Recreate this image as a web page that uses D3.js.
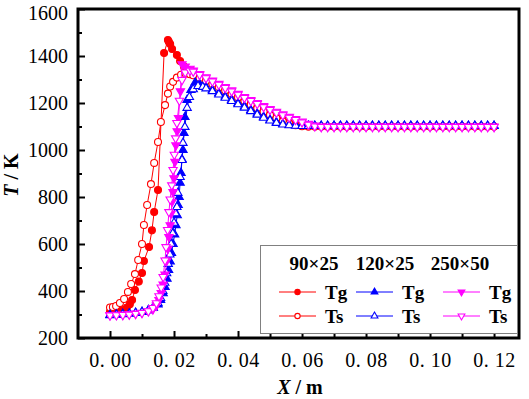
<!DOCTYPE html>
<html>
<head>
<meta charset="UTF-8">
<script src="https://cdn.jsdelivr.net/npm/d3@7/dist/d3.min.js"></script>
<style>
  body { margin: 0; background: #fff; }
  text { font-family: "Liberation Serif", "Times New Roman", serif; }
</style>
</head>
<body>
<svg id="chart" width="529" height="399"></svg>
<script>
// ---- data: [x (m), T (K)] ----
const redTg = [[0,312],[0.0013,313],[0.0027,315],[0.004,320],[0.0053,330],[0.0062,344],[0.0069,362],[0.0078,404],[0.009,440],[0.01,477],[0.0106,528],[0.0122,587],[0.0131,658],[0.0138,736],[0.015,830],[0.0169,1413],[0.0181,1468],[0.0184,1460],[0.0188,1451],[0.0194,1430],[0.0209,1404],[0.0219,1379],[0.0231,1355],[0.0245,1340],[0.026,1330],[0.028,1315],[0.03,1301],[0.032,1287],[0.034,1273],[0.036,1258],[0.038,1243],[0.04,1228],[0.042,1213],[0.044,1198],[0.046,1183],[0.048,1168],[0.05,1154],[0.052,1140],[0.054,1127],[0.056,1116],[0.058,1108],[0.06,1102],[0.062,1100],
  [0.064,1100],[0.066,1100],[0.068,1100],[0.07,1100],[0.072,1100],[0.074,1100],[0.076,1100],[0.078,1100],[0.08,1100],[0.082,1100],[0.084,1100],[0.086,1100],[0.088,1100],[0.09,1100],[0.092,1100],[0.094,1100],[0.096,1100],[0.098,1100],[0.1,1100],[0.102,1100],[0.104,1100],[0.106,1100],[0.108,1100],[0.11,1100],[0.112,1100],[0.114,1100],[0.116,1100],[0.118,1100],[0.12,1100]];
const redTs = [[0,330],[0.0009,332],[0.0019,336],[0.0031,349],[0.0044,366],[0.0056,396],[0.0066,430],[0.0078,472],[0.0088,532],[0.01,600],[0.0106,681],[0.0116,766],[0.0128,855],[0.0138,945],[0.015,1034],[0.0159,1119],[0.0172,1191],[0.0181,1240],[0.0188,1270],[0.0197,1290],[0.0209,1308],[0.0222,1320],[0.0236,1325],[0.025,1322],[0.026,1318],[0.028,1306],[0.03,1294],[0.032,1281],[0.034,1267],[0.036,1253],[0.038,1238],[0.04,1223],[0.042,1208],[0.044,1193],[0.046,1178],[0.048,1163],[0.05,1149],[0.052,1135],[0.054,1122],[0.056,1112],[0.058,1105],[0.06,1101],[0.062,1100],
  [0.064,1100],[0.066,1100],[0.068,1100],[0.07,1100],[0.072,1100],[0.074,1100],[0.076,1100],[0.078,1100],[0.08,1100],[0.082,1100],[0.084,1100],[0.086,1100],[0.088,1100],[0.09,1100],[0.092,1100],[0.094,1100],[0.096,1100],[0.098,1100],[0.1,1100],[0.102,1100],[0.104,1100],[0.106,1100],[0.108,1100],[0.11,1100],[0.112,1100],[0.114,1100],[0.116,1100],[0.118,1100],[0.12,1100]];
const blueTg = [[0,298],[0.002,300],[0.004,302],[0.006,304],[0.008,307],[0.01,311],[0.012,318],[0.0135,328],[0.015,342],[0.0158,362],[0.0166,390],[0.0172,417],[0.0178,452],[0.0183,489],[0.0188,525],[0.0192,562],[0.0197,600],[0.0202,640],[0.0206,680],[0.021,722],[0.0213,766],[0.0216,800],[0.0219,860],[0.0222,902],[0.0225,960],[0.0228,1000],[0.0231,1072],[0.0234,1140],[0.0241,1213],[0.0253,1255],[0.0266,1287],[0.028,1280],[0.03,1268],[0.032,1255],[0.034,1241],[0.036,1227],[0.038,1213],[0.04,1199],[0.042,1185],[0.044,1170],[0.046,1155],[0.048,1141],[0.05,1128],[0.052,1118],[0.054,1111],[0.056,1107],[0.058,1105],[0.06,1104],[0.062,1103],
  [0.064,1103],[0.066,1103],[0.068,1103],[0.07,1103],[0.072,1103],[0.074,1103],[0.076,1103],[0.078,1103],[0.08,1103],[0.082,1103],[0.084,1103],[0.086,1103],[0.088,1103],[0.09,1103],[0.092,1103],[0.094,1103],[0.096,1103],[0.098,1103],[0.1,1103],[0.102,1103],[0.104,1103],[0.106,1103],[0.108,1103],[0.11,1103],[0.112,1103],[0.114,1103],[0.116,1103],[0.118,1103],[0.12,1103]];
const blueTs = [[0,297],[0.002,299],[0.004,301],[0.006,303],[0.008,306],[0.01,310],[0.012,318],[0.0135,330],[0.015,348],[0.0158,370],[0.0165,400],[0.0171,435],[0.0177,475],[0.0182,515],[0.0187,555],[0.0191,600],[0.0196,645],[0.02,690],[0.0205,730],[0.0209,757],[0.0212,817],[0.0219,885],[0.0225,957],[0.0228,1030],[0.0234,1098],[0.0241,1179],[0.0248,1225],[0.026,1258],[0.0275,1272],[0.029,1268],[0.03,1262],[0.032,1250],[0.034,1236],[0.036,1222],[0.038,1208],[0.04,1194],[0.042,1180],[0.044,1165],[0.046,1150],[0.048,1137],[0.05,1125],[0.052,1115],[0.054,1108],[0.056,1105],[0.058,1103],[0.06,1102],[0.062,1102],
  [0.064,1102],[0.066,1102],[0.068,1102],[0.07,1102],[0.072,1102],[0.074,1102],[0.076,1102],[0.078,1102],[0.08,1102],[0.082,1102],[0.084,1102],[0.086,1102],[0.088,1102],[0.09,1102],[0.092,1102],[0.094,1102],[0.096,1102],[0.098,1102],[0.1,1102],[0.102,1102],[0.104,1102],[0.106,1102],[0.108,1102],[0.11,1102],[0.112,1102],[0.114,1102],[0.116,1102],[0.118,1102],[0.12,1102]];
const magTg = [[0,298],[0.002,299],[0.004,300],[0.006,302],[0.008,304],[0.01,308],[0.012,314],[0.0134,322],[0.0145,338],[0.0153,362],[0.016,392],[0.0166,428],[0.0172,470],[0.0178,530],[0.0181,580],[0.0184,630],[0.0188,680],[0.0191,730],[0.0194,780],[0.0197,821],[0.02,880],[0.0203,950],[0.0206,1020],[0.021,1080],[0.0214,1136],[0.022,1250],[0.0225,1365],[0.0235,1356],[0.025,1346],[0.026,1338],[0.028,1324],[0.03,1310],[0.032,1296],[0.034,1282],[0.036,1268],[0.038,1254],[0.04,1240],[0.042,1226],[0.044,1213],[0.046,1200],[0.048,1187],[0.05,1175],[0.052,1163],[0.054,1152],[0.056,1142],[0.058,1132],[0.06,1122],[0.062,1112],[0.064,1104],[0.066,1100],
  [0.068,1100],[0.07,1100],[0.072,1100],[0.074,1100],[0.076,1100],[0.078,1100],[0.08,1100],[0.082,1100],[0.084,1100],[0.086,1100],[0.088,1100],[0.09,1100],[0.092,1100],[0.094,1100],[0.096,1100],[0.098,1100],[0.1,1100],[0.102,1100],[0.104,1100],[0.106,1100],[0.108,1100],[0.11,1100],[0.112,1100],[0.114,1100],[0.116,1100],[0.118,1100],[0.12,1100]];
const magTs = [[0,296],[0.002,297],[0.004,298],[0.006,300],[0.008,303],[0.01,307],[0.012,314],[0.0134,328],[0.0145,348],[0.0153,378],[0.016,415],[0.0166,460],[0.0172,530],[0.0175,587],[0.018,660],[0.0184,736],[0.0188,790],[0.0193,850],[0.0197,915],[0.0201,980],[0.0205,1050],[0.0209,1115],[0.0217,1210],[0.0225,1298],[0.0235,1330],[0.025,1338],[0.026,1334],[0.028,1320],[0.03,1306],[0.032,1292],[0.034,1278],[0.036,1264],[0.038,1250],[0.04,1236],[0.042,1222],[0.044,1209],[0.046,1196],[0.048,1183],[0.05,1171],[0.052,1159],[0.054,1148],[0.056,1138],[0.058,1128],[0.06,1118],[0.062,1108],[0.064,1101],[0.066,1098],
  [0.068,1098],[0.07,1098],[0.072,1098],[0.074,1098],[0.076,1098],[0.078,1098],[0.08,1098],[0.082,1098],[0.084,1098],[0.086,1098],[0.088,1098],[0.09,1098],[0.092,1098],[0.094,1098],[0.096,1098],[0.098,1098],[0.1,1098],[0.102,1098],[0.104,1098],[0.106,1098],[0.108,1098],[0.11,1098],[0.112,1098],[0.114,1098],[0.116,1098],[0.118,1098],[0.12,1098]];

const meshNames = ["90×25", "120×25", "250×50"];
const xTicks = [0, 0.02, 0.04, 0.06, 0.08, 0.10, 0.12];
const xMinor = [0.01, 0.03, 0.05, 0.07, 0.09, 0.11];
const yTicks = [200, 400, 600, 800, 1000, 1200, 1400, 1600];
const yMinor = [300, 500, 700, 900, 1100, 1300, 1500];

// series styling: colour, marker shape, filled?
const series = [
  { data: redTg,  color: "#ff0000", shape: "circle", filled: true,  col: 0, row: 0, label: "Tg" },
  { data: redTs,  color: "#ff0000", shape: "circle", filled: false, col: 0, row: 1, label: "Ts" },
  { data: blueTg, color: "#0000ff", shape: "up",     filled: true,  col: 1, row: 0, label: "Tg" },
  { data: blueTs, color: "#0000ff", shape: "up",     filled: false, col: 1, row: 1, label: "Ts" },
  { data: magTg,  color: "#ff00ff", shape: "down",   filled: true,  col: 2, row: 0, label: "Tg" },
  { data: magTs,  color: "#ff00ff", shape: "down",   filled: false, col: 2, row: 1, label: "Ts" }
];

// ---- layout ----
const L = 78, R = 519, T = 9, B = 338;
const FONT = '"Liberation Serif", "Times New Roman", serif';
const svg = d3.select("#chart");
const x = d3.scaleLinear([-0.01, 0.1278], [L, R]);
const y = d3.scaleLinear([200, 1600], [B, T]);

// axes (ticks point inward)
const fmtX = d => d3.format(".2f")(d).replace(".", ". ");
const gx = svg.append("g").attr("transform", `translate(0,${B})`)
  .call(d3.axisBottom(x).tickValues(xTicks).tickSize(-7).tickFormat(fmtX));
gx.selectAll("text").attr("y", 29).attr("dy", 0)
  .style("font-family", FONT).style("font-size", "20px").style("letter-spacing", "0.5px").attr("fill", "#000");
svg.append("g").attr("transform", `translate(0,${B})`)
  .call(d3.axisBottom(x).tickValues(xMinor).tickSize(-4).tickFormat(""));

const gy = svg.append("g").attr("transform", `translate(${L},0)`)
  .call(d3.axisLeft(y).tickValues(yTicks).tickSize(-7).tickFormat(d3.format("d")));
gy.selectAll("text").style("font-family", FONT).style("font-size", "20px")
  .attr("fill", "#000").attr("x", -10)
  .attr("dy", d => d === 1600 ? "0.5em" : "0.34em");  // top label sits a little lower, as in the source
svg.append("g").attr("transform", `translate(${L},0)`)
  .call(d3.axisLeft(y).tickValues(yMinor).tickSize(-4).tickFormat(""));

svg.selectAll(".domain").remove();
svg.selectAll(".tick line").attr("stroke", "#000").attr("stroke-width", 2);

// frame
svg.append("rect").attr("x", L).attr("y", T).attr("width", R - L).attr("height", B - T)
  .attr("fill", "none").attr("stroke", "#000").attr("stroke-width", 3);

// axis titles
svg.append("text").attr("x", 300).attr("y", 394).attr("text-anchor", "middle")
  .style("font-size", "20px").style("font-weight", "bold")
  .html('<tspan font-style="italic">X</tspan> / m');
svg.append("text").attr("transform", "translate(18,175) rotate(-90)").attr("text-anchor", "middle")
  .style("font-size", "20px").style("font-weight", "bold")
  .html('<tspan font-style="italic">T</tspan> / K');

// markers
function markerPath(shape, size) {
  if (shape === "circle") return d3.symbol().type(d3.symbolCircle).size(size)();
  return d3.symbol().type(d3.symbolTriangle).size(size)();
}
function drawMarker(g, s, px, py, size) {
  g.append("path")
    .attr("d", markerPath(s.shape, size))
    .attr("transform", `translate(${px},${py})` + (s.shape === "down" ? " rotate(180)" : ""))
    .attr("fill", s.filled ? s.color : "#fff")
    .attr("stroke", s.color).attr("stroke-width", 1.1);
}

const line = d3.line().x(d => x(d[0])).y(d => y(d[1]));
series.forEach(s => {
  const g = svg.append("g");
  g.append("path").datum(s.data).attr("d", line)
    .attr("fill", "none").attr("stroke", s.color).attr("stroke-width", 1);
  s.data.forEach(d => drawMarker(g, s, x(d[0]), y(d[1]), s.shape === "circle" ? 38 : 30));
});

// legend
const lg = svg.append("g");
lg.append("rect").attr("x", 260.5).attr("y", 245.5).attr("width", 257).attr("height", 88)
  .attr("fill", "#fff").attr("stroke", "#808080").attr("stroke-width", 1);
const colX = [279, 356, 443];
const headX = [314, 385, 460];
meshNames.forEach((n, i) => {
  lg.append("text").attr("x", headX[i]).attr("y", 270).attr("text-anchor", "middle")
    .style("font-size", "19px").style("font-weight", "bold").text(n);
});
const rowY = [292, 316];
series.forEach(s => {
  const x0 = colX[s.col], yy = rowY[s.row];
  lg.append("line").attr("x1", x0).attr("x2", x0 + 37).attr("y1", yy).attr("y2", yy)
    .attr("stroke", s.color).attr("stroke-width", 1);
  drawMarker(lg, s, x0 + 18.5, yy, s.shape === "circle" ? 22 : 20);
  lg.append("text").attr("x", x0 + 46).attr("y", yy + 7)
    .style("font-size", "19px").style("font-weight", "bold").text(s.label);
});
</script>
</body>
</html>
